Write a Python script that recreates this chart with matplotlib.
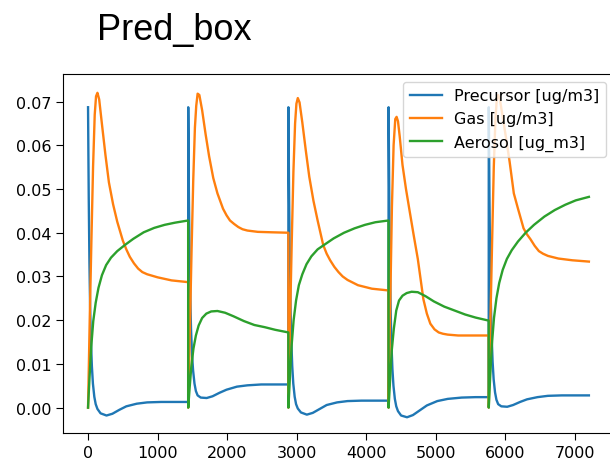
import numpy as np
import matplotlib
matplotlib.use("Agg")
import matplotlib.pyplot as plt

# one cycle = 1440 steps, 5 cycles
cycle_len = 1440
n_cycles = 5

# precursor, sampled inside every cycle at these local times
prec_tau = [0, 5, 10, 20, 30, 40, 55, 70, 90, 110, 135, 180, 265, 350, 450,
            550, 700, 850, 1050, 1250, 1439]
prec_vals = [
    [0.0687, 0.058, 0.048, 0.033, 0.023, 0.016, 0.0095, 0.0055, 0.0025, 0.0008, -0.0003,
     -0.0013, -0.0018, -0.0014, -0.0005, 0.0003, 0.0009, 0.0012, 0.0013, 0.0013, 0.0013],
    [0.0687, 0.058, 0.048, 0.034, 0.025, 0.018, 0.012, 0.0085, 0.0055, 0.0038, 0.0028,
     0.0023, 0.0022, 0.0026, 0.0034, 0.0041, 0.0048, 0.0051, 0.0053, 0.0053, 0.0053],
    [0.0687, 0.058, 0.048, 0.033, 0.023, 0.016, 0.0095, 0.0055, 0.0025, 0.0008, -0.0002,
     -0.0011, -0.0016, -0.0012, -0.0003, 0.0006, 0.0012, 0.0015, 0.0016, 0.0016, 0.0016],
    [0.0687, 0.058, 0.047, 0.032, 0.022, 0.015, 0.0088, 0.005, 0.002, 0.0003, -0.0008,
     -0.0018, -0.0022, -0.0017, -0.0006, 0.0005, 0.0015, 0.002, 0.0023, 0.0024, 0.0024],
    [0.0687, 0.058, 0.048, 0.033, 0.024, 0.017, 0.0105, 0.0065, 0.0035, 0.0018, 0.0008,
     0.0003, 0.0002, 0.0006, 0.0013, 0.0019, 0.0024, 0.0027, 0.0028, 0.0028, 0.0028],
]

gas_tau = [0, 24, 48, 72, 96, 115, 135, 160, 200, 250, 300, 360, 420, 500, 550,
           600, 660, 720, 780, 850, 1000, 1200, 1439]
gas_vals = [
    [0.0, 0.020, 0.038, 0.055, 0.067, 0.0712, 0.072, 0.0705, 0.0648, 0.0578, 0.0515,
     0.0465, 0.0425, 0.0382, 0.0362, 0.0345, 0.033, 0.0318, 0.031, 0.0305, 0.0298,
     0.0291, 0.0287],
    [0.0, 0.018, 0.036, 0.052, 0.064, 0.069, 0.0718, 0.0715, 0.068, 0.0625, 0.0575,
     0.0525, 0.049, 0.0455, 0.044, 0.0428, 0.042, 0.0413, 0.0408, 0.0405, 0.0402,
     0.0401, 0.040],
    [0.0, 0.020, 0.038, 0.054, 0.065, 0.0695, 0.0708, 0.0698, 0.0652, 0.0588, 0.0528,
     0.0473, 0.0428, 0.0372, 0.0352, 0.0337, 0.0322, 0.031, 0.030, 0.0292, 0.028,
     0.0272, 0.0268],
    [0.0, 0.024, 0.046, 0.060, 0.066, 0.0665, 0.0655, 0.062, 0.0555, 0.050, 0.0452,
     0.0395, 0.034, 0.0248, 0.0215, 0.0192, 0.0179, 0.0172, 0.0169, 0.0167, 0.0165,
     0.0165, 0.0165],
    [0.0, 0.020, 0.038, 0.055, 0.066, 0.0705, 0.0715, 0.0705, 0.0665, 0.0615, 0.0562,
     0.049, 0.0455, 0.041, 0.0396, 0.0385, 0.037, 0.0358, 0.0352, 0.0347, 0.0341,
     0.0337, 0.0334],
]

aer_tau = [0, 20, 45, 75, 110, 150, 200, 260, 330, 420, 530, 650, 800, 950,
           1100, 1250, 1439]
aer_vals = [
    [0.0, 0.0065, 0.0138, 0.0198, 0.0240, 0.0274, 0.0303, 0.0326, 0.0343, 0.0358,
     0.0372, 0.0386, 0.0401, 0.0411, 0.0418, 0.0423, 0.0428],
    [0.0, 0.0045, 0.0095, 0.0135, 0.0165, 0.0188, 0.0205, 0.0215, 0.0220, 0.0221,
     0.0217, 0.0209, 0.0198, 0.0189, 0.0184, 0.0178, 0.0172],
    [0.0, 0.0065, 0.014, 0.020, 0.0245, 0.028, 0.0305, 0.0328, 0.0346, 0.0362,
     0.0374, 0.0387, 0.0400, 0.0410, 0.0418, 0.0424, 0.0428],
    [0.0, 0.0058, 0.013, 0.018, 0.0222, 0.0245, 0.0256, 0.0262, 0.0265, 0.0264,
     0.0255, 0.0243, 0.0231, 0.0222, 0.0213, 0.0206, 0.0199],
    [0.0, 0.007, 0.0145, 0.0205, 0.025, 0.0285, 0.0315, 0.034, 0.036, 0.038,
     0.0400, 0.0418, 0.0437, 0.0452, 0.0464, 0.0474, 0.0482],
]

labels = ["Precursor [ug/m3]", "Gas [ug/m3]", "Aerosol [ug_m3]"]


def stitch(tau, vals):
    """ mette in fila i cicli uno dopo l'altro """
    xs, ys = [], []
    for k in range(n_cycles):
        xs.extend([k * cycle_len + t for t in tau])
        ys.extend(vals[k])
    return np.array(xs), np.array(ys)


fig = plt.figure(figsize=(6.1, 4.64), dpi=100)
# right spine sits just outside the picture, like the cropped original
ax = fig.add_axes([63 / 610, 1 - 434 / 464, 551 / 610, 359 / 464])

for (tau, vals), lab in zip([(prec_tau, prec_vals), (gas_tau, gas_vals), (aer_tau, aer_vals)], labels):
    x, y = stitch(tau, vals)
    ax.plot(x, y, lw=1.7, label=lab)

ax.set_xlim(-360, 7560)
ax.set_ylim(-0.0058, 0.0763)
ax.set_xticks(np.arange(0, 8000, 1000))
ax.set_yticks(np.arange(0, 0.08, 0.01))
ax.yaxis.set_major_formatter(matplotlib.ticker.FormatStrFormatter('%.2f'))
ax.tick_params(labelsize=11.5, length=5)
ax.legend(loc='upper right', fontsize=11.5)

fig.text(97 / 610, 1 - 40 / 464, "Pred_box", family="Liberation Sans",
         fontsize=26, va='baseline', ha='left')

fig.savefig("out.png", dpi=100)
